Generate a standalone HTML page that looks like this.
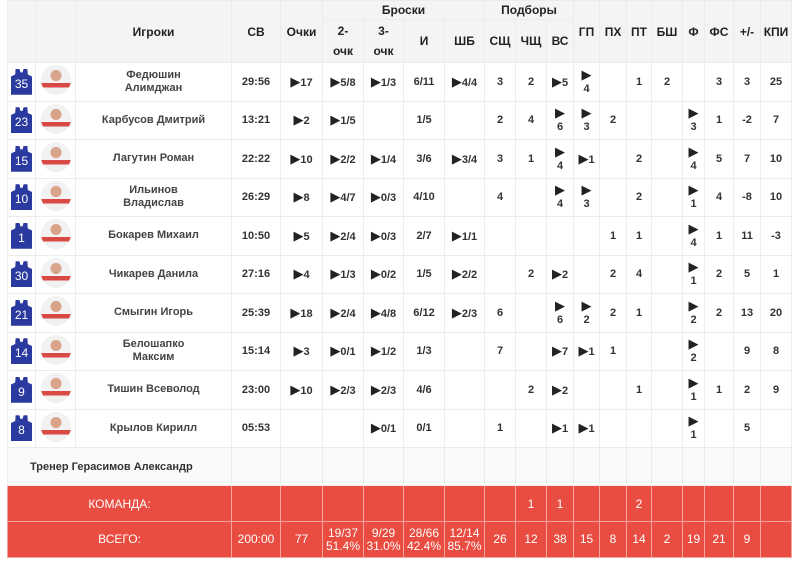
<!DOCTYPE html>
<html><head><meta charset="utf-8">
<style>
body{margin:0;background:#fff;width:800px;height:564px;overflow:hidden;font-family:"Liberation Sans","DejaVu Sans",sans-serif;}
table{position:absolute;left:7px;top:0;border-collapse:collapse;table-layout:fixed;width:784px;}
td,th{padding:0;text-align:center;vertical-align:middle;font-size:11px;font-weight:bold;color:#333;border:1px solid #ececec;overflow:hidden;white-space:nowrap;}
thead th{background:#f4f4f5;color:#222;font-size:12px;}
tr.h1 th{height:18px;}
tr.h2 th{height:42px;}
tr.p td{height:37.5px;background:#fff;}
tr.p td.nm{line-height:13px;white-space:normal;color:#444;}
.a{font-size:13px;color:#222;}
.st{line-height:13px;}
.j{display:inline-block;width:21px;height:26px;background:#2a3a9e;color:#fff;font-size:12px;font-weight:normal;line-height:30px;clip-path:polygon(22% 0,40% 0,45% 14%,55% 14%,60% 0,78% 0,80% 22%,100% 30%,100% 100%,0 100%,0 30%,20% 22%);}
.ph{display:inline-block;width:30px;height:30px;border-radius:50%;background:radial-gradient(circle at 50% 35%,#d9a58a 0 22%,transparent 23%),linear-gradient(#f2f2f2 0 60%,#d94a45 60% 75%,#f0f0f0 75%);}
tr.c td{height:37px;background:#fafafa;}
tr.r td{background:#e94c40;color:#fff;font-weight:normal;font-family:"Liberation Sans Narrow","Liberation Sans",sans-serif;border:1px solid #f2a49d;font-size:12px;}
tr.r1 td{height:35px;}
tr.r2 td{height:35px;line-height:13px;}
</style></head><body>
<table>
<colgroup>
<col style="width:28px"><col style="width:40px"><col style="width:156px"><col style="width:49px"><col style="width:42px"><col style="width:41px"><col style="width:40px"><col style="width:41px"><col style="width:40px"><col style="width:31px"><col style="width:31px"><col style="width:27px"><col style="width:26px"><col style="width:27px"><col style="width:25px"><col style="width:31px"><col style="width:22px"><col style="width:29px"><col style="width:27px"><col style="width:31px">
</colgroup>
<thead>
<tr class="h1"><th rowspan="2"></th><th rowspan="2"></th><th rowspan="2">Игроки</th><th rowspan="2">СВ</th><th rowspan="2">Очки</th><th colspan="4">Броски</th><th colspan="3">Подборы</th><th rowspan="2">ГП</th><th rowspan="2">ПХ</th><th rowspan="2">ПТ</th><th rowspan="2">БШ</th><th rowspan="2">Ф</th><th rowspan="2">ФС</th><th rowspan="2">+/-</th><th rowspan="2">КПИ</th></tr>
<tr class="h2"><th style="line-height:20px">2-<br>очк</th><th style="line-height:20px">3-<br>очк</th><th>И</th><th>ШБ</th><th>СЩ</th><th>ЧЩ</th><th>ВС</th></tr>
</thead>
<tbody>
<tr class="p"><td><span class="j">35</span></td><td><span class="ph"></span></td><td class="nm">Федюшин<br>Алимджан</td><td>29:56</td><td><span class="a">▶</span>17</td><td><span class="a">▶</span>5/8</td><td><span class="a">▶</span>1/3</td><td>6/11</td><td><span class="a">▶</span>4/4</td><td>3</td><td>2</td><td><span class="a">▶</span>5</td><td class="st"><span class="a">▶</span><br>4</td><td></td><td>1</td><td>2</td><td></td><td>3</td><td>3</td><td>25</td></tr>
<tr class="p"><td><span class="j">23</span></td><td><span class="ph"></span></td><td class="nm">Карбусов Дмитрий</td><td>13:21</td><td><span class="a">▶</span>2</td><td><span class="a">▶</span>1/5</td><td></td><td>1/5</td><td></td><td>2</td><td>4</td><td class="st"><span class="a">▶</span><br>6</td><td class="st"><span class="a">▶</span><br>3</td><td>2</td><td></td><td></td><td class="st"><span class="a">▶</span><br>3</td><td>1</td><td>-2</td><td>7</td></tr>
<tr class="p"><td><span class="j">15</span></td><td><span class="ph"></span></td><td class="nm">Лагутин Роман</td><td>22:22</td><td><span class="a">▶</span>10</td><td><span class="a">▶</span>2/2</td><td><span class="a">▶</span>1/4</td><td>3/6</td><td><span class="a">▶</span>3/4</td><td>3</td><td>1</td><td class="st"><span class="a">▶</span><br>4</td><td><span class="a">▶</span>1</td><td></td><td>2</td><td></td><td class="st"><span class="a">▶</span><br>4</td><td>5</td><td>7</td><td>10</td></tr>
<tr class="p"><td><span class="j">10</span></td><td><span class="ph"></span></td><td class="nm">Ильинов<br>Владислав</td><td>26:29</td><td><span class="a">▶</span>8</td><td><span class="a">▶</span>4/7</td><td><span class="a">▶</span>0/3</td><td>4/10</td><td></td><td>4</td><td></td><td class="st"><span class="a">▶</span><br>4</td><td class="st"><span class="a">▶</span><br>3</td><td></td><td>2</td><td></td><td class="st"><span class="a">▶</span><br>1</td><td>4</td><td>-8</td><td>10</td></tr>
<tr class="p"><td><span class="j">1</span></td><td><span class="ph"></span></td><td class="nm">Бокарев Михаил</td><td>10:50</td><td><span class="a">▶</span>5</td><td><span class="a">▶</span>2/4</td><td><span class="a">▶</span>0/3</td><td>2/7</td><td><span class="a">▶</span>1/1</td><td></td><td></td><td></td><td></td><td>1</td><td>1</td><td></td><td class="st"><span class="a">▶</span><br>4</td><td>1</td><td>11</td><td>-3</td></tr>
<tr class="p"><td><span class="j">30</span></td><td><span class="ph"></span></td><td class="nm">Чикарев Данила</td><td>27:16</td><td><span class="a">▶</span>4</td><td><span class="a">▶</span>1/3</td><td><span class="a">▶</span>0/2</td><td>1/5</td><td><span class="a">▶</span>2/2</td><td></td><td>2</td><td><span class="a">▶</span>2</td><td></td><td>2</td><td>4</td><td></td><td class="st"><span class="a">▶</span><br>1</td><td>2</td><td>5</td><td>1</td></tr>
<tr class="p"><td><span class="j">21</span></td><td><span class="ph"></span></td><td class="nm">Смыгин Игорь</td><td>25:39</td><td><span class="a">▶</span>18</td><td><span class="a">▶</span>2/4</td><td><span class="a">▶</span>4/8</td><td>6/12</td><td><span class="a">▶</span>2/3</td><td>6</td><td></td><td class="st"><span class="a">▶</span><br>6</td><td class="st"><span class="a">▶</span><br>2</td><td>2</td><td>1</td><td></td><td class="st"><span class="a">▶</span><br>2</td><td>2</td><td>13</td><td>20</td></tr>
<tr class="p"><td><span class="j">14</span></td><td><span class="ph"></span></td><td class="nm">Белошапко<br>Максим</td><td>15:14</td><td><span class="a">▶</span>3</td><td><span class="a">▶</span>0/1</td><td><span class="a">▶</span>1/2</td><td>1/3</td><td></td><td>7</td><td></td><td><span class="a">▶</span>7</td><td><span class="a">▶</span>1</td><td>1</td><td></td><td></td><td class="st"><span class="a">▶</span><br>2</td><td></td><td>9</td><td>8</td></tr>
<tr class="p"><td><span class="j">9</span></td><td><span class="ph"></span></td><td class="nm">Тишин Всеволод</td><td>23:00</td><td><span class="a">▶</span>10</td><td><span class="a">▶</span>2/3</td><td><span class="a">▶</span>2/3</td><td>4/6</td><td></td><td></td><td>2</td><td><span class="a">▶</span>2</td><td></td><td></td><td>1</td><td></td><td class="st"><span class="a">▶</span><br>1</td><td>1</td><td>2</td><td>9</td></tr>
<tr class="p"><td><span class="j">8</span></td><td><span class="ph"></span></td><td class="nm">Крылов Кирилл</td><td>05:53</td><td></td><td></td><td><span class="a">▶</span>0/1</td><td>0/1</td><td></td><td>1</td><td></td><td><span class="a">▶</span>1</td><td><span class="a">▶</span>1</td><td></td><td></td><td></td><td class="st"><span class="a">▶</span><br>1</td><td></td><td>5</td><td></td></tr>
<tr class="c"><td colspan="3" style="text-align:left;padding-left:22px;font-family:'Liberation Sans Narrow','Liberation Sans',sans-serif;">Тренер Герасимов Александр</td><td></td><td></td><td></td><td></td><td></td><td></td><td></td><td></td><td></td><td></td><td></td><td></td><td></td><td></td><td></td><td></td><td></td></tr>
<tr class="r r1"><td colspan="3">КОМАНДА:</td><td></td><td></td><td></td><td></td><td></td><td></td><td></td><td>1</td><td>1</td><td></td><td></td><td>2</td><td></td><td></td><td></td><td></td><td></td></tr>
<tr class="r r2"><td colspan="3">ВСЕГО:</td><td>200:00</td><td>77</td><td>19/37<br>51.4%</td><td>9/29<br>31.0%</td><td>28/66<br>42.4%</td><td>12/14<br>85.7%</td><td>26</td><td>12</td><td>38</td><td>15</td><td>8</td><td>14</td><td>2</td><td>19</td><td>21</td><td>9</td><td></td></tr>
</tbody>
</table>
</body></html>
